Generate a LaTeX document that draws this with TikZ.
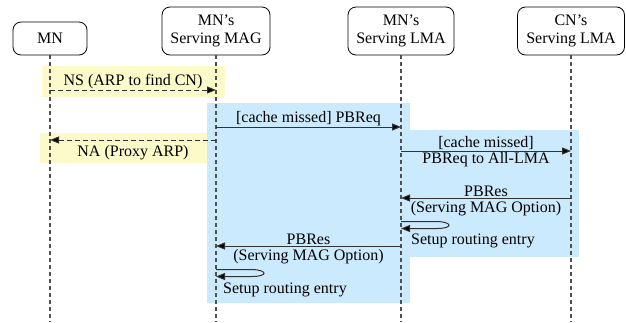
\documentclass[tikz,border=0pt]{standalone}
\usepackage{fontspec}
\setmainfont{Liberation Serif}
\usetikzlibrary{arrows.meta}

\definecolor{noteyellow}{RGB}{252,250,200}
\definecolor{groupblue}{RGB}{204,234,253}
\definecolor{lifegray}{RGB}{80,80,80}
\definecolor{msggray}{RGB}{50,50,50}

\begin{document}
\begin{tikzpicture}[x=1pt,y=-1pt,
  txt/.style={font=\fontsize{16}{18}\selectfont},
  actor/.style={txt, draw=black, line width=0.8pt, rounded corners=8pt,
    align=center, inner sep=0pt, minimum height=48pt},
  lifeline/.style={draw=lifegray, line width=1.1pt, dash pattern=on 4pt off 3pt},
  msg/.style={draw=msggray, line width=1pt,
    -{Triangle[length=9pt,width=7pt,fill=black]}},
  reply/.style={msg, dash pattern=on 5pt off 3pt},
  lblup/.style={txt, above, inner sep=1pt},
  lbldn/.style={txt, below, inner sep=3pt}
]
\useasboundingbox (0,0) rectangle (626,322);

% shaded regions
\fill[noteyellow] (42,66) rectangle (225,97);
\fill[noteyellow] (40,133) rectangle (216,163);
\fill[groupblue] (207,103) rectangle (410,303);
\fill[groupblue] (392,130) rectangle (579,257);

% participants
\node[actor, minimum width=74pt, minimum height=33pt] (mn) at (50,38.5) {MN};
\node[actor, minimum width=108pt] (mag) at (216,31) {MN’s\\Serving MAG};
\node[actor, minimum width=106pt] (lma) at (401,31) {MN’s\\Serving LMA};
\node[actor, minimum width=107pt] (cn) at (571,31) {CN’s\\Serving LMA};

% lifelines
\coordinate (bottom) at (0,322);
\draw[lifeline] (mn.south) -- (mn |- bottom);
\draw[lifeline] (mag.south) -- (mag |- bottom);
\draw[lifeline] (lma.south) -- (lma |- bottom);
\draw[lifeline] (cn.south) -- (cn |- bottom);

% message anchor points on the lifelines
\coordinate (nsA) at (mn |- 0,90);   \coordinate (nsB) at (mag |- 0,90);
\coordinate (reqA) at (mag |- 0,127); \coordinate (reqB) at (lma |- 0,127);
\coordinate (naA) at (mag |- 0,140);  \coordinate (naB) at (mn |- 0,140);
\coordinate (allA) at (lma |- 0,151); \coordinate (allB) at (cn |- 0,151);
\coordinate (resA) at (cn |- 0,198);  \coordinate (resB) at (lma |- 0,198);
\coordinate (lpA) at (lma |- 0,221.5);  \coordinate (lpB) at (lma |- 0,228.5);
\coordinate (res2A) at (lma |- 0,246); \coordinate (res2B) at (mag |- 0,246);
\coordinate (mpA) at (mag |- 0,269.5);  \coordinate (mpB) at (mag |- 0,276.5);

% messages
\draw[reply] (nsA) -- (nsB) node[lblup, midway] {NS (ARP to find CN)};
\draw[msg] (reqA) -- (reqB) node[lblup, midway] {[cache missed] PBReq};
\draw[reply] (naA) -- (naB) node[lbldn, midway, inner sep=5pt] {NA (Proxy ARP)};
\draw[msg] (allA) -- (allB)
  node[lblup, midway] {[cache missed]}
  node[lbldn, midway, inner sep=1pt] {PBReq to All-LMA};
\draw[msg] (resA) -- (resB)
  node[lblup, midway] {PBRes}
  node[lbldn, midway] {(Serving MAG Option)};
\draw[msg] (lpA) -- ++(36,0) .. controls +(16,0.5) and +(16,0) .. ++(0,7) -- (lpB);
\node[txt, anchor=base west, inner sep=0pt] (lpT) at (411,244) {Setup routing entry};
\draw[msg] (res2A) -- (res2B)
  node[lblup, midway] {PBRes}
  node[lbldn, midway] {(Serving MAG Option)};
\draw[msg] (mpA) -- ++(36,0) .. controls +(16,0.5) and +(16,0) .. ++(0,7) -- (mpB);
\node[txt, anchor=base west, inner sep=0pt] (mpT) at (223,293) {Setup routing entry};
\end{tikzpicture}
\end{document}
